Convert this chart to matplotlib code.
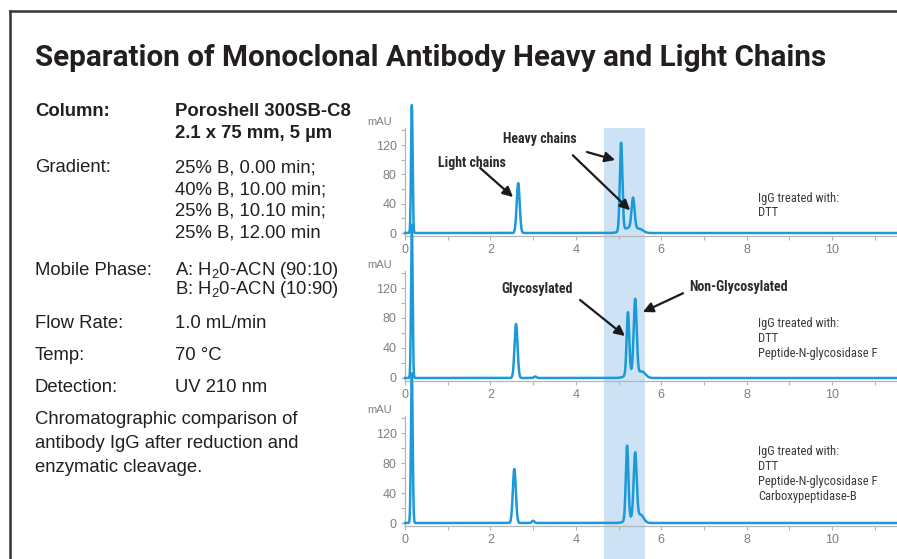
import numpy as np
import matplotlib
matplotlib.use("Agg")
import matplotlib.pyplot as plt
from matplotlib import font_manager
from matplotlib.patches import Rectangle
from matplotlib.transforms import blended_transform_factory

# ---------------------------------------------------------------- data
# retention time (min), height (mAU), width (sigma, min) for each peak
top_rt     = [0.16, 2.65, 5.06, 5.34, 5.25, 5.50]
top_height = [175, 68, 120, 42, 7, 4]
top_sigma  = [0.018, 0.035, 0.030, 0.035, 0.15, 0.08]

mid_rt     = [0.16, 2.60, 3.05, 5.22, 5.39, 5.30, 5.55]
mid_height = [205, 72, 2, 83, 100, 6, 8]
mid_sigma  = [0.018, 0.035, 0.03, 0.030, 0.035, 0.12, 0.08]

bot_rt     = [0.16, 2.56, 3.00, 5.20, 5.39, 5.30, 5.52]
bot_height = [200, 72, 3, 99, 88, 6, 10]
bot_sigma  = [0.020, 0.035, 0.03, 0.030, 0.035, 0.12, 0.07]

treatments = [
    ["IgG treated with:", "DTT"],
    ["IgG treated with:", "DTT", "Peptide-N-glycosidase F"],
    ["IgG treated with:", "DTT", "Peptide-N-glycosidase F", "Carboxypeptidase-B"],
]

y_ticks = [0, 40, 80, 120]
x_ticks = [0, 2, 4, 6, 8, 10]
highlight_window = (4.65, 5.62)   # min

method_rows = [
    ("Column:", ["Poroshell 300SB-C8", "2.1 x 75 mm, 5 µm"], True),
    ("Gradient:", ["25% B, 0.00 min;", "40% B, 10.00 min;",
                   "25% B, 10.10 min;", "25% B, 12.00 min"], False),
    ("Mobile Phase:", [r"A: H$_{\mathregular{2}}$0-ACN (90:10)",
                       r"B: H$_{\mathregular{2}}$0-ACN (10:90)"], False),
    ("Flow Rate:", ["1.0 mL/min"], False),
    ("Temp:", ["70 °C"], False),
    ("Detection:", ["UV 210 nm"], False),
]
caption = ["Chromatographic comparison of",
           "antibody IgG after reduction and",
           "enzymatic cleavage."]

# ---------------------------------------------------------------- fonts
names = {f.name for f in font_manager.fontManager.ttflist}


def pick(cands, default="DejaVu Sans"):
    for c in cands:
        if c in names:
            return c
    return default


NARROW = pick(["Liberation Sans Narrow", "Arial Narrow", "Roboto Condensed", "Roboto"])
HEAD = pick(["Roboto", "Liberation Sans"])
SANS = pick(["Liberation Sans", "Arimo", "Noto Sans"])
plt.rcParams["font.family"] = SANS
plt.rcParams["mathtext.fontset"] = "custom"
plt.rcParams["mathtext.rm"] = SANS

TRACE = "#1b9ad7"
DARK = "#231f20"
GREY = "#7f7f7f"
SPINE = "#b5b5b5"
BAND = "#cde3f5"

W, H = 897, 559
fig = plt.figure(figsize=(W / 100, H / 100), dpi=100)


def fx(px):
    return px / W


def fy(py):
    return 1 - py / H


# frame
fig.add_artist(plt.Line2D([fx(10), fx(10)], [fy(11), 0], color="#333333", lw=1.8))
fig.add_artist(plt.Line2D([fx(10), 1], [fy(11), fy(11)], color="#333333", lw=1.8))

# title
fig.text(fx(35), fy(58), "Separation of Monoclonal Antibody Heavy and Light Chains",
         family=HEAD, weight="bold", fontsize=21.3, color=DARK, va="center", ha="left")

# method details
BODY = 13.3
row_y = [112, 168, 270, 323, 356, 388]
line_gap = [21, 21.7, 20, 0, 0, 0]
for (label, vals, bold), y0, gap in zip(method_rows, row_y, line_gap):
    fig.text(fx(35), fy(y0), label, fontsize=BODY, color=DARK, va="center",
             weight="bold" if bold else "normal")
    for i, v in enumerate(vals):
        fig.text(fx(175), fy(y0 + i * gap), v, fontsize=BODY, color=DARK, va="center",
                 weight="bold" if bold else "normal")
for i, line in enumerate(caption):
    fig.text(fx(35), fy(420 + i * 23.5), line, fontsize=BODY, color=DARK, va="center")

# ---------------------------------------------------------------- chromatograms
t = np.linspace(0, 11.52, 4000)


def trace(rts, hs, sigmas):
    y = np.zeros_like(t)
    for r, h, s in zip(rts, hs, sigmas):
        y += h * np.exp(-0.5 * ((t - r) / s) ** 2)
    return y


panels = [
    (top_rt, top_height, top_sigma, 233, 0.733),
    (mid_rt, mid_height, mid_sigma, 378, 0.75),
    (bot_rt, bot_height, bot_sigma, 523, 0.75),
]

left = 405 / W
ymin, ymax = -4, 143
axes = []
for rts, hs, sg, zero_px, scale in panels:
    top_px = zero_px - ymax * scale
    bot_px = zero_px - ymin * scale
    ax = fig.add_axes([left, 1 - bot_px / H, 1 - left, (bot_px - top_px) / H])
    ax.patch.set_alpha(0)
    ax.set_xlim(0, 11.52)
    ax.set_ylim(ymin, ymax)
    ax.plot(t, trace(rts, hs, sg), color=TRACE, lw=1.8, clip_on=False, zorder=3)
    for s in ("top", "right"):
        ax.spines[s].set_visible(False)
    for s in ("left", "bottom"):
        ax.spines[s].set_color(SPINE)
        ax.spines[s].set_linewidth(0.9)
    ax.set_yticks(y_ticks)
    ax.set_yticks([20, 60, 100, 140], minor=True)
    ax.set_xticks(x_ticks)
    ax.set_xticks([1, 3, 5, 7, 9, 11], minor=True)
    ax.tick_params(which="both", colors=SPINE, labelcolor=GREY, labelsize=9,
                   length=3, width=0.8, pad=3)
    ax.text(-0.59, 151, "mAU", fontsize=8, color=GREY,
            ha="center", va="center", clip_on=False)
    axes.append(ax)

# highlighted retention window spanning all three panels
tr = blended_transform_factory(axes[0].transData, fig.transFigure)
fig.add_artist(Rectangle((highlight_window[0], 0), highlight_window[1] - highlight_window[0],
                         fy(128), transform=tr, facecolor=BAND, edgecolor="none", zorder=0))

# treatment notes
note_y = [[47.7, 28.6], [73, 52, 32], [96, 76, 56, 34.7]]
for ax, lines, ys in zip(axes, treatments, note_y):
    for line, yy in zip(lines, ys):
        ax.text(8.27, yy, line, family=NARROW, fontsize=9, color="#3a3a3a",
                ha="left", va="center")

# peak labels and arrows
arrow = dict(arrowstyle="-|>,head_length=0.6,head_width=0.3", color="#1a1a1a",
             lw=1.6, shrinkA=0, shrinkB=0)
lab = dict(family=NARROW, weight="bold", fontsize=10, color="#2a2a2a", va="center")

a0, a1 = axes[0], axes[1]
a0.text(1.57, 95.5, "Light chains", ha="center", **lab)
a0.annotate("", xy=(2.53, 49), xytext=(1.76, 88.7), arrowprops=arrow)
a0.text(3.16, 128, "Heavy chains", ha="center", **lab)
a0.annotate("", xy=(4.92, 99.6), xytext=(4.26, 110.5), arrowprops=arrow)
a0.annotate("", xy=(5.27, 31), xytext=(3.93, 106), arrowprops=arrow)

a1.text(3.09, 118.7, "Glycosylated", ha="center", **lab)
a1.annotate("", xy=(5.15, 56), xytext=(4.10, 104), arrowprops=arrow)
a1.text(6.65, 121, "Non-Glycosylated", ha="left", **lab)
a1.annotate("", xy=(5.57, 88), xytext=(6.51, 113), arrowprops=arrow)

fig.savefig("out.png", dpi=100)
